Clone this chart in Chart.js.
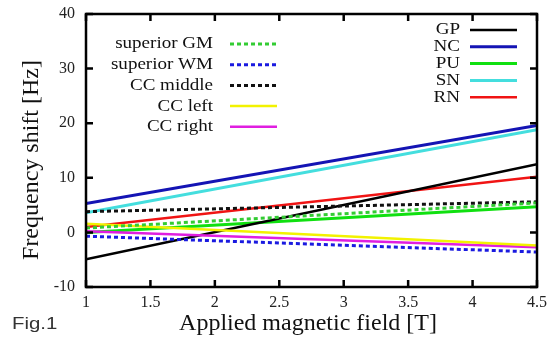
<!DOCTYPE html>
<html>
<head>
<meta charset="utf-8">
<script src="https://cdn.jsdelivr.net/npm/chart.js@4.4.1/dist/chart.umd.min.js"></script>
<style>
  body { margin: 0; background: #fff; }
  canvas { display: block; }
</style>
</head>
<body>
<canvas id="myChart" width="560" height="342"></canvas>
<script>
// x axis: applied field [T], only the end points of each fitted line
const fields = [1, 4.5];
const xTicks = [1, 1.5, 2, 2.5, 3, 3.5, 4, 4.5];
const yTicks = [-10, 0, 10, 20, 30, 40];

// right legend group (solid lines)
const gp = [-4.9, 12.5];
const nc = [5.3, 19.6];
const pu = [0.0, 4.7];
const sn = [3.6, 18.8];
const rn = [1.0, 10.2];

// left legend group
const supGM = [0.8, 5.4];
const supWM = [-0.7, -3.6];
const ccMiddle = [3.8, 5.6];
const ccLeft = [1.6, -2.4];
const ccRight = [0.2, -2.7];

const toPts = (vals) => vals.map((v, i) => ({ x: fields[i], y: v }));

const makeSet = (label, vals, color, width, dash, group) => ({
  label: label,
  data: toPts(vals),
  borderColor: color,
  backgroundColor: color,
  borderWidth: width,
  borderDash: dash,
  pointRadius: 0,
  fill: false,
  group: group,
});

const datasets = [
  makeSet("superior GM", supGM, "#33cc33", 3, [4, 3], "left"),
  makeSet("superior WM", supWM, "#1a1ae0", 3, [4, 3], "left"),
  makeSet("CC middle", ccMiddle, "#111111", 3, [4, 3], "left"),
  makeSet("CC left", ccLeft, "#f2f200", 2.5, [], "left"),
  makeSet("CC right", ccRight, "#e01ee0", 2.5, [], "left"),
  makeSet("GP", gp, "#000000", 2.5, [], "right"),
  makeSet("NC", nc, "#1414b4", 3, [], "right"),
  makeSet("PU", pu, "#10e010", 3, [], "right"),
  makeSet("SN", sn, "#44dede", 3, [], "right"),
  makeSet("RN", rn, "#f01414", 2.5, [], "right"),
];

const serif = "'Liberation Serif', 'Times New Roman', serif";

// stretched text, the scan is wider than tall
const wideText = (ctx, text, x, y, sx) => {
  ctx.save();
  ctx.translate(x, y);
  ctx.scale(sx, 1);
  ctx.fillText(text, 0, 0);
  ctx.restore();
};

// two legend boxes + frame with inward ticks + axis titles + "Fig.1"
const decor = {
  id: "decor",
  afterDraw(chart) {
    const ctx = chart.ctx;
    const a = chart.chartArea;
    const xs = chart.scales.x;
    const ys = chart.scales.y;
    ctx.save();

    // frame
    ctx.strokeStyle = "#000";
    ctx.lineWidth = 2.5;
    ctx.strokeRect(a.left, a.top, a.right - a.left, a.bottom - a.top);

    // inward ticks on all sides
    ctx.lineWidth = 2.5;
    ctx.beginPath();
    xTicks.forEach((t) => {
      const px = xs.getPixelForValue(t);
      ctx.moveTo(px, a.bottom); ctx.lineTo(px, a.bottom - 7);
      ctx.moveTo(px, a.top); ctx.lineTo(px, a.top + 7);
    });
    yTicks.forEach((t) => {
      const py = ys.getPixelForValue(t);
      ctx.moveTo(a.left, py); ctx.lineTo(a.left + 7, py);
      ctx.moveTo(a.right, py); ctx.lineTo(a.right - 7, py);
    });
    ctx.stroke();

    // legends
    ctx.font = "17px " + serif;
    ctx.textAlign = "right";
    ctx.textBaseline = "middle";
    const drawGroup = (group, textRight, lineX0, lineX1, y0, step) => {
      let y = y0;
      chart.data.datasets.forEach((ds) => {
        if (ds.group !== group) return;
        ctx.fillStyle = "#111";
        wideText(ctx, ds.label, textRight, y, 1.12);
        ctx.strokeStyle = ds.borderColor;
        ctx.lineWidth = ds.borderWidth;
        ctx.setLineDash(ds.borderDash);
        ctx.beginPath();
        ctx.moveTo(lineX0, y);
        ctx.lineTo(lineX1, y);
        ctx.stroke();
        ctx.setLineDash([]);
        y += step;
      });
    };
    drawGroup("left", 213, 230, 277, 44, 20.7);
    drawGroup("right", 460, 470, 517, 30, 16.8);

    // axis titles
    ctx.fillStyle = "#111";
    ctx.font = "24px " + serif;
    ctx.textAlign = "center";
    ctx.textBaseline = "alphabetic";
    ctx.fillText("Applied magnetic field [T]", 308, 330);
    ctx.save();
    ctx.translate(38, 160);
    ctx.rotate(-Math.PI / 2);
    ctx.fillText("Frequency shift [Hz]", 0, 0);
    ctx.restore();

    ctx.font = "17px 'Liberation Sans', Arial, sans-serif";
    ctx.textAlign = "left";
    ctx.textBaseline = "middle";
    ctx.fillStyle = "#333";
    wideText(ctx, "Fig.1", 12, 324, 1.2);
    ctx.restore();
  },
};

new Chart(document.querySelector("#myChart").getContext("2d"), {
  type: "line",
  data: { datasets: datasets },
  options: {
    responsive: false,
    animation: false,
    layout: { padding: { left: 0, right: 23, top: 14, bottom: 0 } },
    plugins: { legend: { display: false }, tooltip: { enabled: false } },
    scales: {
      x: {
        type: "linear",
        min: 1,
        max: 4.5,
        afterBuildTicks: (s) => { s.ticks = xTicks.map((v) => ({ value: v })); },
        afterFit: (s) => { s.height = 55; },
        grid: { display: false },
        border: { display: false },
        ticks: {
          color: "#222",
          font: { family: serif, size: 16 },
          padding: -2,
          maxRotation: 0,
          callback: (v) => String(v),
        },
      },
      y: {
        type: "linear",
        min: -10,
        max: 40,
        afterBuildTicks: (s) => { s.ticks = yTicks.map((v) => ({ value: v })); },
        afterFit: (s) => { s.width = 86; },
        grid: { display: false },
        border: { display: false },
        ticks: {
          color: "#222",
          font: { family: serif, size: 16 },
          padding: 3,
        },
      },
    },
  },
  plugins: [decor],
});
</script>
</body>
</html>
